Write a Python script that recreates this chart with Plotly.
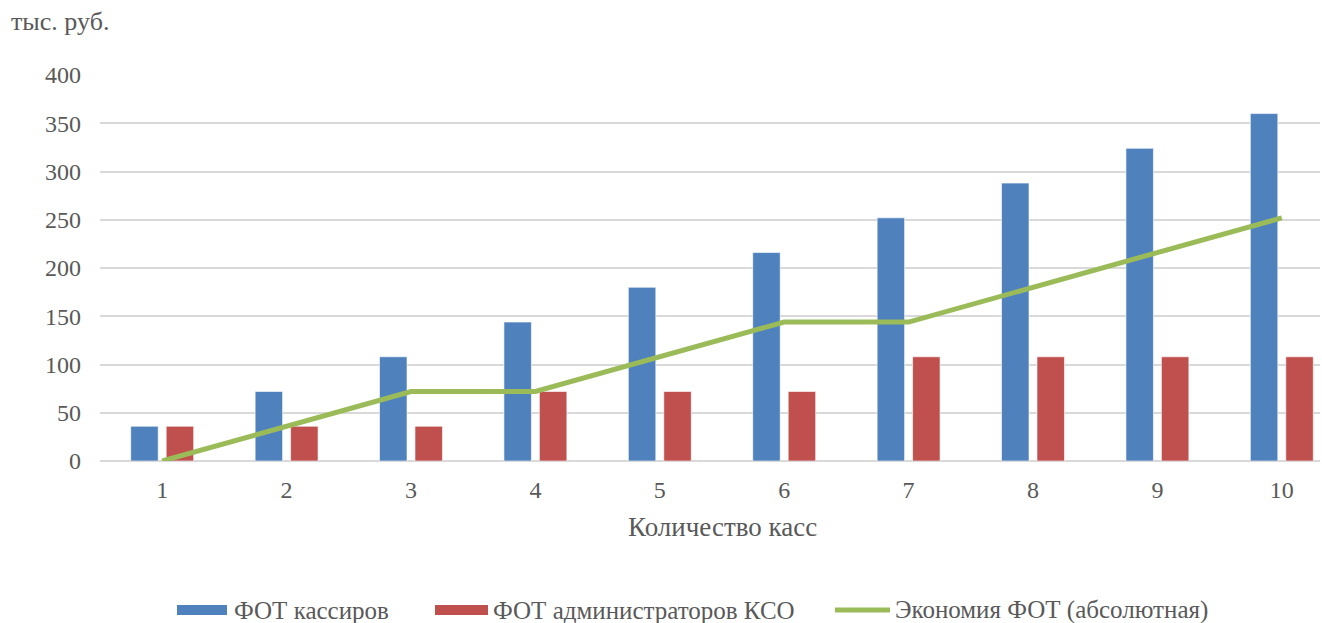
import plotly.graph_objects as go

# Number of checkout lanes
kassy = [1, 2, 3, 4, 5, 6, 7, 8, 9, 10]
# Payroll of cashiers, thousand rubles
fot_kassirov = [36, 72, 108, 144, 180, 216, 252, 288, 324, 360]
# Payroll of self-checkout administrators, thousand rubles
fot_admin = [36, 36, 36, 72, 72, 72, 108, 108, 108, 108]
# Absolute payroll savings, thousand rubles
ekonomiya = [0, 36, 72, 72, 108, 144, 144, 180, 216, 252]

y_ticks = [0, 50, 100, 150, 200, 250, 300, 350, 400]

names = ["ФОТ кассиров", "ФОТ администраторов КСО", "Экономия ФОТ (абсолютная)"]
BLUE, RED, GREEN = "#4f81bd", "#c0504d", "#9bbb59"
FONT = "Liberation Serif"
TXT = "#595959"

W, H = 1322, 623
L, R, T, B = 100, 2, 75, 162

fig = go.Figure()
fig.add_bar(x=kassy, y=fot_kassirov, name=names[0], marker_color=BLUE,
            marker_line=dict(color="rgba(255,255,255,0.6)", width=1))
fig.add_bar(x=kassy, y=fot_admin, name=names[1], marker_color=RED,
            marker_line=dict(color="rgba(255,255,255,0.6)", width=1))
fig.add_scatter(x=kassy, y=ekonomiya, name=names[2], mode="lines",
                line=dict(color=GREEN, width=5))

pw = W - L - R
ph = H - T - B


def px_x(px):
    return (px - L) / pw


def px_y(py):
    return (H - B - py) / ph


shapes = []
annotations = []
# legend entries drawn below the plot
legend_items = [
    (177, 227, 232, BLUE, "bar", names[0]),
    (435, 488, 491, RED, "bar", names[1]),
    (835, 890, 893, GREEN, "line", names[2]),
]
ly = 610
for x0, x1, tx, col, kind, label in legend_items:
    if kind == "bar":
        shapes.append(dict(type="rect", xref="paper", yref="paper",
                           x0=px_x(x0), x1=px_x(x1), y0=px_y(ly + 5), y1=px_y(ly - 5),
                           fillcolor=col, line=dict(width=0)))
    else:
        shapes.append(dict(type="line", xref="paper", yref="paper",
                           x0=px_x(x0), x1=px_x(x1), y0=px_y(ly), y1=px_y(ly),
                           line=dict(color=col, width=5)))
    annotations.append(dict(xref="paper", yref="paper", x=px_x(tx), y=px_y(ly),
                            xanchor="left", yanchor="middle", showarrow=False,
                            text=label, font=dict(family=FONT, size=25, color=TXT)))

annotations.append(dict(xref="paper", yref="paper", x=px_x(9), y=px_y(22),
                        xanchor="left", yanchor="middle", showarrow=False,
                        text="тыс. руб.", font=dict(family=FONT, size=26, color=TXT)))
annotations.append(dict(xref="paper", yref="paper", x=px_x(722), y=px_y(527),
                        xanchor="center", yanchor="middle", showarrow=False,
                        text="Количество касс", font=dict(family=FONT, size=27, color=TXT)))

fig.update_layout(
    width=W, height=H,
    margin=dict(l=L, r=R, t=T, b=B),
    paper_bgcolor="white", plot_bgcolor="white",
    showlegend=False,
    barmode="group", bargap=0.43, bargroupgap=0.225,
    font=dict(family=FONT, size=24, color=TXT),
    shapes=shapes, annotations=annotations,
)
fig.update_xaxes(range=[0.5, 0.5 + pw / 124.4], tickmode="array", tickvals=kassy,
                 ticktext=[str(k) for k in kassy], showgrid=False, zeroline=False,
                 showline=False, ticks="", ticklabelstandoff=12,
                 tickfont=dict(family=FONT, size=24, color=TXT))
fig.update_yaxes(range=[0, 400], tickmode="array", tickvals=y_ticks,
                 showgrid=True, gridcolor="#d9d9d9", gridwidth=1.5,
                 zeroline=True, zerolinecolor="#d9d9d9", zerolinewidth=1.5,
                 showline=False, ticks="", ticklabelstandoff=18,
                 tickfont=dict(family=FONT, size=24, color=TXT))

fig.write_html("out.html")
